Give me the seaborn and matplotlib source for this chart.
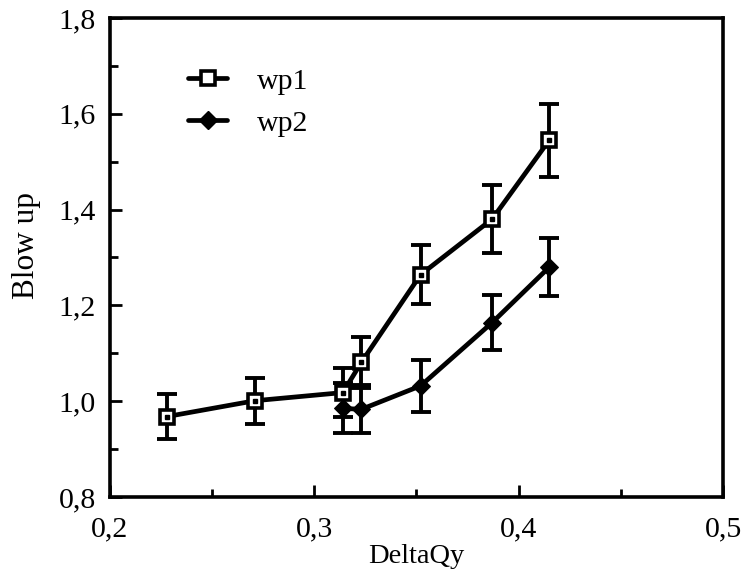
import matplotlib
matplotlib.use("Agg")
import matplotlib.pyplot as plt
from matplotlib.ticker import FuncFormatter, MultipleLocator, FixedLocator
from matplotlib.lines import Line2D
import seaborn as sns
import pandas as pd

# data
wp1_x = [0.228, 0.271, 0.314, 0.323, 0.352, 0.387, 0.415]
wp1_y = [0.968, 1.001, 1.018, 1.081, 1.264, 1.380, 1.545]
wp1_err = [0.047, 0.048, 0.051, 0.054, 0.062, 0.071, 0.076]

wp2_x = [0.314, 0.323, 0.352, 0.387, 0.415]
wp2_y = [0.985, 0.983, 1.032, 1.164, 1.280]
wp2_err = [0.052, 0.050, 0.054, 0.058, 0.061]

series_names = ["wp1", "wp2"]
x_ticks = [0.2, 0.3, 0.4, 0.5]
x_minor = [0.25, 0.35, 0.45]
y_ticks = [0.8, 1.0, 1.2, 1.4, 1.6, 1.8]

sns.set_theme(style="white")
plt.rcParams['font.family'] = ['Liberation Serif', 'DejaVu Serif']
plt.rcParams['text.color'] = 'black'
plt.rcParams['axes.labelcolor'] = 'black'
plt.rcParams['xtick.color'] = 'black'
plt.rcParams['ytick.color'] = 'black'

df1 = pd.DataFrame({"x": wp1_x, "y": wp1_y, "s": series_names[0]})
df2 = pd.DataFrame({"x": wp2_x, "y": wp2_y, "s": series_names[1]})

fig = plt.figure(figsize=(7.44, 5.71), dpi=100)
ax = fig.add_axes([0.1478, 0.1296, 0.824, 0.839])

lw = 3.4
# error bars
for xs, ys, es in [(wp1_x, wp1_y, wp1_err), (wp2_x, wp2_y, wp2_err)]:
    ax.errorbar(xs, ys, yerr=es, fmt='none', ecolor='black', elinewidth=2.8,
                capsize=7, capthick=2.8, zorder=2)

sns.lineplot(data=df2, x="x", y="y", ax=ax, color='black', linewidth=lw,
             marker='D', markersize=9, markerfacecolor='black',
             markeredgecolor='black', sort=False, legend=False, zorder=3)
sns.lineplot(data=df1, x="x", y="y", ax=ax, color='black', linewidth=lw,
             marker='s', markersize=10.5, markerfacecolor='white',
             markeredgecolor='black', markeredgewidth=2.6, sort=False,
             legend=False, zorder=4)
ax.plot(wp1_x, wp1_y, linestyle='none', marker='s', markersize=2.6,
        color='black', zorder=5)

ax.set_xlim(0.2, 0.5)
ax.set_ylim(0.8, 1.8)
ax.xaxis.set_major_locator(FixedLocator(x_ticks))
ax.xaxis.set_minor_locator(FixedLocator(x_minor))
ax.yaxis.set_major_locator(FixedLocator(y_ticks))
ax.yaxis.set_minor_locator(MultipleLocator(0.1))
fmt = FuncFormatter(lambda v, p: f"{v:.1f}".replace('.', ','))
ax.xaxis.set_major_formatter(fmt)
ax.yaxis.set_major_formatter(fmt)

ax.tick_params(axis='both', which='major', direction='in', length=8.5, width=2,
               labelsize=21.5, colors='black', bottom=True, left=True)
ax.tick_params(axis='both', which='minor', direction='in', length=5.5, width=2,
               bottom=True, left=True)
ax.tick_params(axis='x', which='major', pad=14)
ax.tick_params(axis='y', which='major', pad=10)

for sp in ax.spines.values():
    sp.set_linewidth(2.6)
    sp.set_color('black')

ax.set_xlabel("DeltaQy", fontsize=20.5, color='black')
ax.xaxis.set_label_coords(0.5, -0.098)
ax.set_ylabel("Blow up", fontsize=22.5, color='black')
ax.yaxis.set_label_coords(-0.113, 0.526)

h1 = Line2D([], [], color='black', linewidth=lw, marker='s', markersize=10.5,
            markerfacecolor='white', markeredgecolor='black', markeredgewidth=2.6)
h2 = Line2D([], [], color='black', linewidth=lw, marker='D', markersize=9,
            markerfacecolor='black')
leg = ax.legend([h1, h2], series_names, loc='upper left', bbox_to_anchor=(0.084, 0.952),
                frameon=False, fontsize=21.5, handlelength=1.3, handletextpad=1.0,
                labelspacing=0.5)
for t in leg.get_texts():
    t.set_color('black')

fig.savefig("out.png", dpi=100)
